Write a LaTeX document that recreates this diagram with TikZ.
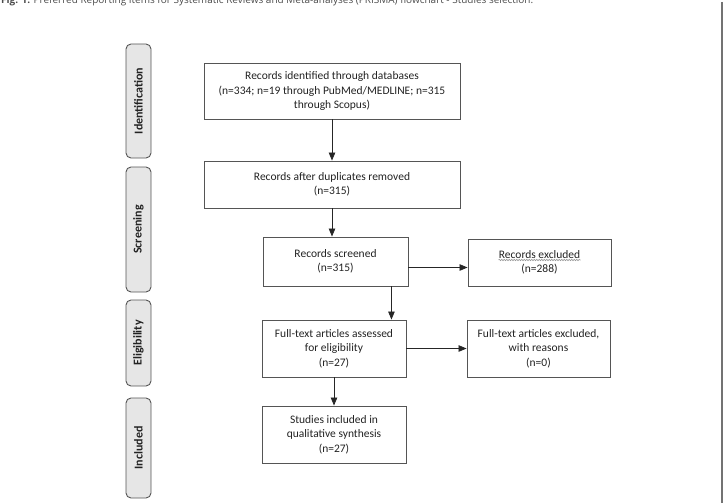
\documentclass[tikz,border=0pt]{standalone}
\usepackage{fontspec}
\setmainfont{Carlito}
\newfontfamily\capfont{Open Sans}
\usetikzlibrary{positioning, arrows.meta, decorations.pathmorphing}
\definecolor{framegray}{HTML}{555555}
\definecolor{barfill}{HTML}{E6E6E6}
\definecolor{textgray}{HTML}{222222}

\begin{document}
\begin{tikzpicture}[
  x=1pt, y=-1pt,
  box/.style={draw=framegray, line width=0.9pt, align=center, inner sep=0pt, text=textgray, font=\fontsize{11.5}{14.5}\selectfont},
  phase/.style={draw=framegray, fill=barfill, line width=0.9pt, rounded corners=5pt, rotate=90, inner sep=0pt, minimum height=25pt, text=textgray, font=\fontsize{12}{14}\selectfont\bfseries},
  arrow/.style={-{Triangle[length=8pt, width=6.5pt]}, line width=0.8pt, draw=black!85},
  spellwave/.style={draw=black!40, line width=0.6pt, decorate, decoration={snake, amplitude=0.7pt, segment length=2.5pt}}
]
  \useasboundingbox (0,0) rectangle (723,503);

  % Caption (cut at the top edge)
  \node[anchor=base west, inner sep=0pt, text=black!70, font=\capfont\fontsize{10}{12}\selectfont] (caption) at (1,4) {\textbf{Fig. 1.} Preferred Reporting Items for Systematic Reviews and Meta-analyses (PRISMA) flowchart - Studies selection.};
  \draw[black!55, line width=1.2pt] (722,2) -- (722,503);

  % Phase bars (left side)
  \node[phase, minimum width=114pt] (identbar) at (138.5,101) {Identification};
  \node[phase, minimum width=125pt] (screenbar) at (138.5,229.5) {Screening};
  \node[phase, minimum width=86pt] (eligbar) at (138.5,343) {Eligibility};
  \node[phase, minimum width=100pt] (inclbar) at (138.5,448) {Included};

  % Main column
  \node[box, minimum width=256pt, minimum height=56pt] (identified) at (332,91) {Records identified through databases\\(n=334; n=19 through PubMed/MEDLINE; n=315\\through Scopus)};
  \node[box, minimum width=256pt, minimum height=47pt] (dedup) at (332,184.5) {Records after duplicates removed\\(n=315)};
  \node[box, minimum width=145pt, minimum height=49pt] (screened) at (335.5,261.5) {Records screened\\(n=315)};
  \node[box, minimum width=144pt, minimum height=57pt] (fulltext) at (334,348.5) {Full-text articles assessed\\for eligibility\\(n=27)};
  \node[box, minimum width=144pt, minimum height=57pt] (included) at (334,434.5) {Studies included in\\qualitative synthesis\\(n=27)};

  % Exclusions (right side)
  \node[box, minimum width=143pt, minimum height=47pt] (recexcl) at (539.5,262.5) {Records excluded\\(n=288)};
  \node[box, minimum width=143pt, minimum height=57pt] (ftexcl) at (538.5,348.5) {Full-text articles excluded,\\with reasons\\(n=0)};
  \draw[spellwave] ([shift={(-41,-2.5)}]recexcl.center) -- ([shift={(41,-2.5)}]recexcl.center);

  % Flow arrows
  \draw[arrow] (identified.south) -- (dedup.north);
  \draw[arrow] (dedup.south) -- (dedup.south |- screened.north);
  \draw[arrow] ([xshift=-17pt]screened.south east) -- ([xshift=-17pt]screened.south east |- fulltext.north);
  \draw[arrow] (fulltext.south) -- (included.north);
  \draw[arrow] ([yshift=-6pt]screened.east) -- ([yshift=-6pt]screened.east -| recexcl.west);
  \draw[arrow] (fulltext.east) -- (ftexcl.west);
\end{tikzpicture}
\end{document}
